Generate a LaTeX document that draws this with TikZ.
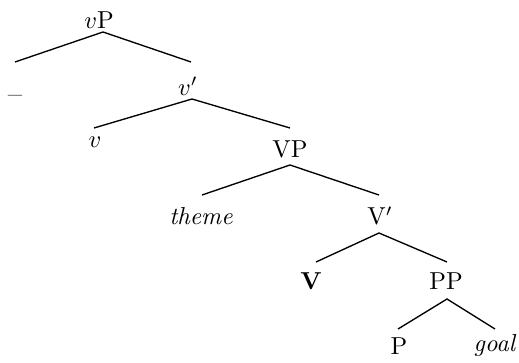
\documentclass[tikz,border=0pt]{standalone}
\begin{document}
\begin{tikzpicture}[x=0.408pt,y=-0.408pt,
  lbl/.style={inner sep=0pt,anchor=center},
  edge/.style={line width=0.55pt}]
\useasboundingbox (0,0) rectangle (519,363);
% labels
\node[lbl] (vP) at (99,20) {$v$P};
\node[inner sep=0pt,anchor=base] (dash) at (15,104) {\large --};
\node[lbl] (vbar) at (188,86) {$v'$};
\node[lbl] (v) at (95,142) {$v$};
\node[lbl] (VP) at (290,149) {VP};
\node[lbl] (theme) at (201,216) {\textit{theme}};
\node[lbl] (Vbar) at (380,216) {V$'$};
\node[lbl] (V) at (311,281) {\textbf{V}};
\node[lbl] (PP) at (446,281) {PP};
\node[lbl] (P) at (399,346) {P};
\node[lbl] (goal) at (495,346) {\textit{goal}};
% attachment points
\coordinate (vP-a) at (103,32);
\coordinate (dash-t) at (15,62);
\coordinate (vbar-t) at (191,62);
\coordinate (vbar-a) at (192,99);
\coordinate (v-t) at (94,128);
\coordinate (VP-t) at (290,128);
\coordinate (VP-a) at (290,165);
\coordinate (theme-t) at (202,195);
\coordinate (Vbar-t) at (379,195);
\coordinate (Vbar-a) at (379,233);
\coordinate (V-t) at (316,262);
\coordinate (PP-t) at (447,262);
\coordinate (PP-a) at (447,299);
\coordinate (P-t) at (398,329);
\coordinate (goal-t) at (495,329);
% edges
\draw[edge] (dash-t) -- (vP-a) -- (vbar-t);
\draw[edge] (v-t) -- (vbar-a) -- (VP-t);
\draw[edge] (theme-t) -- (VP-a) -- (Vbar-t);
\draw[edge] (V-t) -- (Vbar-a) -- (PP-t);
\draw[edge] (P-t) -- (PP-a) -- (goal-t);
\end{tikzpicture}
\end{document}
